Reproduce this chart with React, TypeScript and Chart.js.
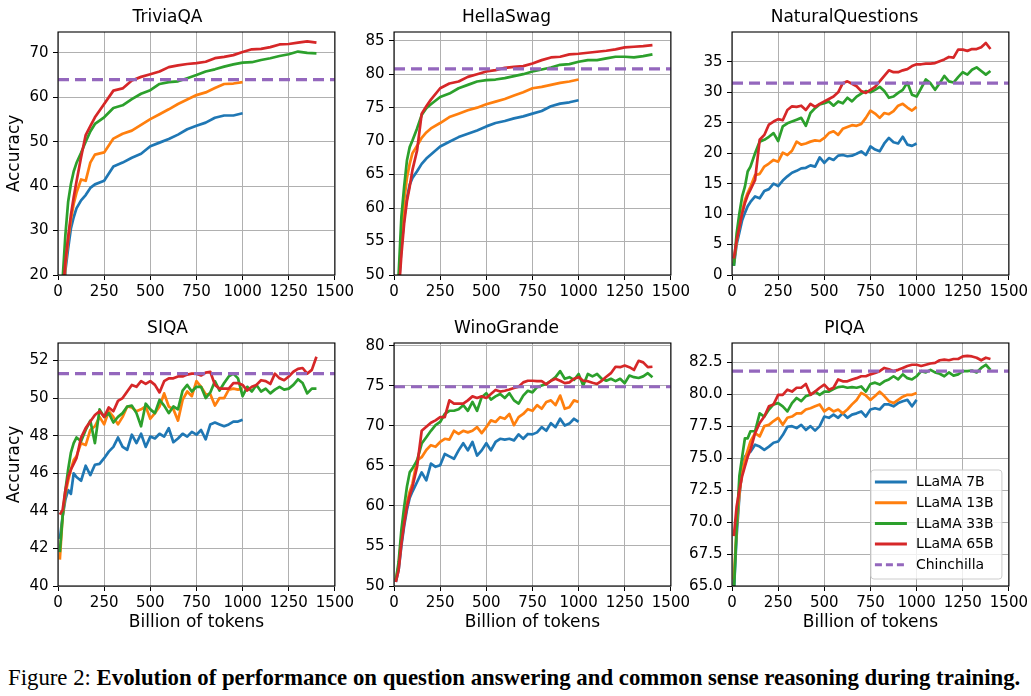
import React, { useEffect, useLayoutEffect, useRef, useState } from "react";
import { Chart, registerables } from "chart.js";

Chart.register(...registerables);

const FONT = '"DejaVu Sans", sans-serif';

// ---------- data ----------
const X_SMOOTH = [25, 40, 55, 70, 85, 100, 125, 150, 175, 200, 250, 300, 350, 400, 450, 500, 550, 600, 650, 700, 750, 800, 850, 900, 950, 1000, 1050, 1100, 1150, 1200, 1250, 1300, 1350, 1400];
const X_NOISY = [10, 25, 40, 55, 70, 85, 100, 125, 150, 175, 200, 225, 250, 275, 300, 325, 350, 375, 400, 425, 450, 475, 500, 525, 550, 575, 600, 625, 650, 675, 700, 725, 750, 775, 800, 825, 850, 875, 900, 925, 950, 975, 1000, 1025, 1050, 1075, 1100, 1125, 1150, 1175, 1200, 1225, 1250, 1275, 1300, 1325, 1350, 1375, 1400];
const X_TICKS = [0, 250, 500, 750, 1000, 1250, 1500];

const SERIES_NAMES = ["LLaMA 7B", "LLaMA 13B", "LLaMA 33B", "LLaMA 65B"];
const BASELINE_NAME = "Chinchilla";

const TRIVIA_7B = [5, 21, 26, 30.5, 33, 35, 36.8, 38, 39.6, 40.4, 41.2, 44.4, 45.3, 46.4, 47.3, 49, 49.8, 50.6, 51.6, 52.8, 53.6, 54.3, 55.4, 55.9, 55.9, 56.4];
const TRIVIA_13B = [12, 22, 28, 32.5, 36, 38.5, 41.5, 41.2, 45.3, 47.1, 47.6, 50.7, 51.8, 52.5, 53.8, 55.1, 56.2, 57.3, 58.5, 59.5, 60.5, 61.1, 62.1, 63, 63.1, 63.4];
const TRIVIA_33B = [19, 29, 36.5, 40.5, 43.3, 45.2, 47.5, 50, 52.3, 54, 55.5, 57.6, 58.2, 59.6, 60.8, 61.6, 63, 63.4, 63.6, 64.3, 65, 65.8, 66.3, 66.9, 67.4, 67.8, 67.9, 68.4, 68.8, 69.3, 69.7, 70.3, 70, 69.9];
const TRIVIA_65B = [15, 23, 28.5, 33.5, 37.5, 41, 46.5, 51.5, 53.5, 55.5, 58.5, 61.5, 62, 63.8, 64.6, 65.2, 65.8, 66.8, 67.2, 67.5, 67.7, 68, 68.8, 69.1, 69.5, 70.2, 70.8, 70.9, 71.3, 71.9, 72, 72.3, 72.6, 72.3];

const HELLA_7B = [48, 54, 58.5, 61.5, 63.5, 64.5, 65.5, 66.6, 67.4, 68, 69.2, 69.9, 70.6, 71.1, 71.6, 72.2, 72.7, 73, 73.4, 73.7, 74.1, 74.5, 75.2, 75.6, 75.8, 76.1];
const HELLA_13B = [48, 56, 61, 64.5, 66.6, 68.2, 69.3, 70.5, 71.3, 71.9, 72.7, 73.6, 74.1, 74.6, 75, 75.5, 75.9, 76.3, 76.8, 77.3, 77.9, 78.1, 78.4, 78.7, 78.9, 79.2];
const HELLA_33B = [50, 58.7, 63.2, 67.1, 69.1, 70.1, 71.9, 73.9, 74.9, 75.5, 76.6, 77.1, 77.9, 78.4, 78.9, 79.1, 79.2, 79.4, 79.7, 80, 80.4, 80.7, 81, 81.4, 81.5, 81.85, 82.1, 82.1, 82.35, 82.6, 82.6, 82.5, 82.7, 82.95];
const HELLA_65B = [47, 53, 57.7, 61, 63.2, 65.7, 68.6, 74.1, 75.2, 76.2, 77.9, 78.6, 78.9, 79.6, 80, 80.4, 80.6, 80.95, 81.1, 81.2, 81.6, 82.1, 82.5, 82.6, 82.95, 83.05, 83.2, 83.35, 83.5, 83.7, 84, 84.1, 84.2, 84.35];

const NQ_7B = [1.5, 5, 7, 9, 10.2, 11.3, 12, 12.9, 12.6, 13.8, 14.1, 15, 14.6, 15.5, 16.2, 16.8, 17.1, 17.5, 17.6, 18, 17.8, 19.3, 18.4, 19.2, 18.9, 19.6, 19.7, 19.5, 19.6, 19.9, 20.3, 19.7, 21.1, 20.6, 20.3, 21.6, 22.5, 21.8, 21.6, 22.7, 21.4, 21.2, 21.6];
const NQ_13B = [2, 5.5, 8, 10.5, 12.3, 13.5, 14.5, 16.4, 16.6, 17.8, 18.3, 18.9, 18.6, 20.1, 19.7, 20.4, 21.9, 21.4, 21.6, 21.9, 22.1, 22, 22.5, 23.3, 23.6, 23, 24, 24.3, 24.6, 24.5, 24.8, 25.8, 27, 26.5, 25.8, 26.6, 26.4, 26.9, 27.8, 28.1, 27.5, 27, 27.6];
const NQ_33B = [1.5, 6.8, 10.1, 12.9, 14.5, 17, 17.8, 20, 21.9, 22.2, 22.7, 23.3, 22, 24.4, 24.9, 25.2, 25.5, 25.8, 24.5, 26.6, 27.4, 28, 28.2, 28.5, 27.8, 28.5, 28.2, 29.1, 28.5, 29.3, 29.8, 30.2, 30, 30.4, 30.9, 30.2, 29.1, 29.3, 29.9, 30.4, 31.6, 29.6, 29.3, 30.7, 32.1, 31.5, 30.4, 31.5, 32.7, 31.8, 31.6, 32.5, 33.3, 32.9, 33.7, 34.1, 33.5, 32.9, 33.5];
const NQ_65B = [2.7, 5.7, 7.9, 10.1, 11.8, 13.1, 14, 15.6, 22.2, 23, 24.7, 25.2, 25.6, 25.4, 27.1, 27.7, 27.6, 27.8, 27.1, 28.1, 27.6, 28.1, 28.5, 28.9, 29.3, 30, 31.5, 31.8, 31.4, 31, 30.2, 29.9, 30.4, 30.9, 31.8, 32.7, 33.6, 33.3, 33.3, 33.6, 33.8, 34.3, 34.6, 34.6, 34.7, 34.7, 34.8, 35.1, 35.4, 35.8, 35.7, 37, 37, 36.8, 37.1, 37.1, 37.4, 38.1, 37.1];

const SIQA_7B = [42.5, 43.7, 44.6, 45.1, 44.9, 46, 45.8, 45.6, 46.4, 45.9, 46.45, 46.5, 46.8, 47.15, 47.4, 47.9, 47.4, 47.25, 48.05, 47.6, 48.1, 47.4, 47.95, 47.85, 48.1, 47.95, 48.4, 47.65, 47.85, 48.1, 47.95, 48.2, 48.05, 48.3, 47.8, 48.6, 48.7, 48.6, 48.5, 48.6, 48.75, 48.75, 48.85];
const SIQA_13B = [41.4, 43.7, 44.9, 45.6, 46.2, 46.7, 46.9, 47.6, 47.5, 48.3, 48.5, 49, 48.6, 49.3, 49, 48.6, 49, 49.55, 49.5, 49.3, 49.4, 49.55, 48.9, 49.2, 49.55, 50.25, 49.55, 49.4, 48.8, 49.9, 50.35, 50.1, 50.9, 50.6, 50.2, 50.2, 49.6, 50, 50, 50.45, 50.5, 50.45, 50.5];
const SIQA_33B = [41.8, 43.7, 45.1, 46.2, 47.1, 47.6, 47.9, 47.7, 48.3, 48.8, 47.6, 49.4, 49, 49.2, 48.7, 49, 49.2, 49.55, 49.6, 49.2, 48.5, 49.7, 49.4, 49.2, 49.9, 49.6, 49.2, 49.55, 49.4, 50.4, 50.7, 50.35, 50.6, 50.6, 50, 50.3, 50.9, 50.4, 50.8, 51.15, 51.3, 51.05, 50.1, 50.6, 50.35, 50.7, 50.35, 50.5, 50.25, 50.45, 50.6, 50.45, 50.5, 50.7, 51, 50.8, 50.25, 50.5, 50.5];
const SIQA_65B = [43.8, 44.05, 45.1, 45.8, 46.2, 46.5, 46.8, 47.9, 48.4, 48.75, 49.1, 49.3, 49, 49.5, 49.3, 49.85, 50, 50.35, 50.7, 50.6, 50.9, 50.75, 50.9, 50.7, 50.3, 50.9, 51.05, 51.05, 51.15, 51.15, 51.25, 51.3, 51.3, 51.2, 51.35, 51.4, 50.7, 50.5, 50.5, 50.5, 50.8, 50.8, 50.7, 50.4, 50.6, 50.7, 50.95, 50.9, 50.75, 51.3, 51.05, 50.95, 51.15, 51.4, 51.55, 51.6, 51.3, 51.5, 52.2];

const WINO_7B = [50.5, 52, 55, 57.5, 59.5, 61, 61.8, 63, 64.2, 63.2, 65.3, 64.9, 65.1, 66.5, 66.2, 65.9, 66.95, 67.85, 66.95, 68, 66.3, 66.95, 67.85, 66.95, 68, 68.4, 68.3, 68.4, 68.2, 68.95, 68.4, 69, 68.95, 69.2, 69.85, 69.4, 70.35, 69.85, 70.9, 70.05, 70.3, 70.9, 70.5];
const WINO_13B = [50.8, 52.5, 56, 58.3, 60.3, 61.8, 62.8, 65.7, 66.1, 67, 67.6, 67.4, 68, 68.4, 68.3, 69.4, 69, 69.4, 69.2, 69.4, 69.85, 69.1, 69.85, 70.7, 70.5, 71.1, 70.9, 71.5, 70.1, 71.1, 71.5, 72.1, 71.9, 72.6, 72.15, 73, 73.2, 72.6, 73.8, 72.15, 72.35, 73.2, 73];
const WINO_33B = [50.7, 53, 57, 59.9, 62.4, 64.2, 64.7, 65.7, 67.8, 68.6, 69.4, 70.1, 70.5, 71.5, 71.9, 71.9, 72.1, 72.6, 71.9, 73, 71.9, 73.6, 74.1, 73.3, 73.7, 74, 73.5, 74.1, 73.2, 72.8, 73.8, 74.4, 74.2, 74.85, 75.05, 75.25, 75.65, 76.1, 76.85, 75.9, 76.1, 75.75, 76.5, 75.05, 76.5, 76.2, 76.5, 75.9, 75.65, 75.9, 75.6, 75.9, 75.35, 76.3, 76.1, 76, 76.2, 76.6, 76.1];
const WINO_65B = [50.5, 52, 55.3, 57.8, 59.9, 61.3, 62.4, 64.9, 69.4, 69.9, 70.4, 70.7, 71.1, 71.1, 73.2, 72.8, 72.8, 72.8, 73.2, 73.7, 73.5, 73.7, 73.5, 74, 74.5, 74.3, 74.4, 74.55, 74.75, 74.9, 75.45, 75.65, 75.65, 75.6, 75.6, 75.2, 75.65, 75.9, 75.65, 75.35, 75.45, 75.9, 76.1, 75.65, 75.6, 75.4, 75.25, 75.65, 76.15, 76.6, 77.4, 77.35, 77.55, 77.35, 77, 78.15, 77.95, 77.35, 77.4];

const PIQA_7B = [64.5, 68.9, 72, 74.1, 75.1, 75.4, 75.5, 76.05, 75.9, 75.65, 75.9, 76.2, 76.3, 76.8, 77.45, 77.5, 77.35, 77.6, 77.2, 77.5, 77.15, 77.5, 78.25, 78.15, 78.4, 78.15, 78.5, 78.15, 78.4, 78.5, 78.65, 78.25, 78.8, 78.9, 78.8, 79.2, 79.2, 79.05, 79.3, 79.45, 79.55, 79.05, 79.55];
const PIQA_13B = [65.5, 69.5, 72.2, 73.9, 74.9, 75.6, 76.3, 76.95, 76.7, 77.5, 77.6, 77.9, 78.15, 77.6, 78.15, 78.25, 78.5, 78.5, 78.8, 78.9, 79.05, 79.2, 78.65, 78.9, 78.65, 78.8, 78.5, 78.8, 79.2, 79.55, 80.1, 79.9, 79.55, 79.85, 80.2, 79.85, 79.45, 79.3, 79.55, 79.8, 79.95, 79.95, 80.1];
const PIQA_33B = [64.5, 69.6, 73.6, 75.1, 76.55, 76.55, 77.1, 77.1, 78.5, 78.25, 78.8, 79.2, 79.3, 79.05, 78.65, 79.3, 79.7, 79.45, 79.85, 79.95, 80.2, 79.95, 80.2, 80.2, 80.4, 80.55, 80.6, 80.5, 80.55, 80.5, 80.6, 80.2, 80.8, 80.9, 80.75, 81, 81.15, 81.4, 81.15, 81.55, 81.25, 81.15, 81.4, 81.8, 81.7, 81.9, 81.7, 81.6, 81.4, 81.7, 81.45, 81.55, 81.8, 81.8, 81.85, 81.7, 82.05, 82.3, 81.9];
const PIQA_65B = [68.9, 71.2, 72.5, 73.6, 74.35, 75.1, 75.65, 76.95, 77.75, 78.25, 79.05, 79.2, 79.95, 79.95, 80.35, 80.2, 80.5, 80.5, 80.8, 79.95, 80.2, 80.5, 80.75, 80.35, 80.5, 81.15, 81, 81, 81.15, 81.25, 81.4, 81.4, 81.55, 81.65, 81.8, 82.05, 81.95, 81.8, 81.9, 82.05, 82.2, 82.3, 82.3, 82.2, 82.3, 82.4, 82.45, 82.65, 82.7, 82.65, 82.75, 82.75, 82.95, 83, 82.95, 82.85, 82.65, 82.85, 82.75];

const PANEL_TITLES = ["TriviaQA", "HellaSwag", "NaturalQuestions", "SIQA", "WinoGrande", "PIQA"];
const CHINCHILLA_SCORES = [64.0, 80.8, 31.5, 51.3, 74.9, 81.8];
const Y_MIN = [20, 50, 0, 40, 50, 65];
const Y_MAX = [74.7, 86.3, 39.9, 52.93, 80.37, 84.0];
const Y_TICKS_TRIVIA = [20, 30, 40, 50, 60, 70];
const Y_TICKS_HELLA = [50, 55, 60, 65, 70, 75, 80, 85];
const Y_TICKS_NQ = [0, 5, 10, 15, 20, 25, 30, 35];
const Y_TICKS_SIQA = [40, 42, 44, 46, 48, 50, 52];
const Y_TICKS_WINO = [50, 55, 60, 65, 70, 75, 80];
const Y_TICKS_PIQA = [65, 67.5, 70, 72.5, 75, 77.5, 80, 82.5];
const Y_DECIMALS = [0, 0, 0, 0, 0, 1];

// ---------- styles / layout ----------
const SERIES_COLORS = ["#1f77b4", "#ff7f0e", "#2ca02c", "#d62728"];
const BASELINE_COLOR = "#9467bd";
const COL_PLOT_LEFT = [58, 394, 732];
const ROW_PLOT_TOP = [32, 343];
const PLOT_W = 277;
const PLOT_H = 243;

type Panel = {
  title: string;
  xs: number[];
  series: number[][];
  chin: number;
  yMin: number;
  yMax: number;
  yTicks: number[];
  decimals: number;
  col: number;
  row: number;
  yLabel: boolean;
  xLabel: boolean;
  legend: boolean;
};

const PANELS: Panel[] = [
  { series: [TRIVIA_7B, TRIVIA_13B, TRIVIA_33B, TRIVIA_65B], xs: X_SMOOTH, yTicks: Y_TICKS_TRIVIA },
  { series: [HELLA_7B, HELLA_13B, HELLA_33B, HELLA_65B], xs: X_SMOOTH, yTicks: Y_TICKS_HELLA },
  { series: [NQ_7B, NQ_13B, NQ_33B, NQ_65B], xs: X_NOISY, yTicks: Y_TICKS_NQ },
  { series: [SIQA_7B, SIQA_13B, SIQA_33B, SIQA_65B], xs: X_NOISY, yTicks: Y_TICKS_SIQA },
  { series: [WINO_7B, WINO_13B, WINO_33B, WINO_65B], xs: X_NOISY, yTicks: Y_TICKS_WINO },
  { series: [PIQA_7B, PIQA_13B, PIQA_33B, PIQA_65B], xs: X_NOISY, yTicks: Y_TICKS_PIQA },
].map((p, i) => ({
  ...p,
  title: PANEL_TITLES[i],
  chin: CHINCHILLA_SCORES[i],
  yMin: Y_MIN[i],
  yMax: Y_MAX[i],
  decimals: Y_DECIMALS[i],
  col: i % 3,
  row: Math.floor(i / 3),
  yLabel: i % 3 === 0,
  xLabel: i >= 3,
  legend: i === 5,
}));

function makeFramePlugin() {
  return {
    id: "frame",
    afterDatasetsDraw(chart: any) {
      const { ctx, chartArea } = chart;
      ctx.save();
      ctx.strokeStyle = "#000";
      ctx.lineWidth = 1.1;
      ctx.strokeRect(chartArea.left, chartArea.top, chartArea.right - chartArea.left, chartArea.bottom - chartArea.top);
      ctx.restore();
    },
  };
}

function makeLegendPlugin(show: boolean) {
  return {
    id: "insetLegend",
    afterDraw(chart: any) {
      if (!show) return;
      const { ctx, chartArea } = chart;
      const w = 131;
      const h = 109;
      const x0 = chartArea.right - 7 - w;
      const y0 = chartArea.bottom - 7 - h;
      ctx.save();
      const r = 3;
      ctx.beginPath();
      ctx.moveTo(x0 + r, y0);
      ctx.lineTo(x0 + w - r, y0);
      ctx.quadraticCurveTo(x0 + w, y0, x0 + w, y0 + r);
      ctx.lineTo(x0 + w, y0 + h - r);
      ctx.quadraticCurveTo(x0 + w, y0 + h, x0 + w - r, y0 + h);
      ctx.lineTo(x0 + r, y0 + h);
      ctx.quadraticCurveTo(x0, y0 + h, x0, y0 + h - r);
      ctx.lineTo(x0, y0 + r);
      ctx.quadraticCurveTo(x0, y0, x0 + r, y0);
      ctx.closePath();
      ctx.fillStyle = "rgba(255,255,255,0.8)";
      ctx.fill();
      ctx.strokeStyle = "#cccccc";
      ctx.lineWidth = 1;
      ctx.stroke();
      chart.data.datasets.forEach((ds: any, i: number) => {
        const y = y0 + 12 + i * 20.7;
        ctx.beginPath();
        ctx.setLineDash(ds.borderDash ? [7, 4] : []);
        ctx.strokeStyle = ds.borderColor;
        ctx.lineWidth = 3;
        ctx.moveTo(x0 + 4, y);
        ctx.lineTo(x0 + 36, y);
        ctx.stroke();
        ctx.setLineDash([]);
        ctx.fillStyle = "#000";
        ctx.font = `14px ${FONT}`;
        ctx.textBaseline = "middle";
        ctx.textAlign = "left";
        ctx.fillText(ds.label, x0 + 45, y + 0.5);
      });
      ctx.restore();
    },
  };
}

function ChartPanel({ p }: { p: Panel }) {
  const ref = useRef<HTMLCanvasElement>(null);
  const L = p.col === 0 ? 58 : 52;
  const R = 22;
  const T = 32;
  const B = p.xLabel ? 56 : 30;
  const width = L + PLOT_W + R;
  const height = T + PLOT_H + B;
  const left = COL_PLOT_LEFT[p.col] - L;
  const top = ROW_PLOT_TOP[p.row] - T;

  useEffect(() => {
    const datasets: any[] = p.series.map((ys, i) => ({
      label: SERIES_NAMES[i],
      data: ys.map((y, j) => ({ x: p.xs[j], y })),
      borderColor: SERIES_COLORS[i],
      backgroundColor: SERIES_COLORS[i],
      borderWidth: 2.7,
      pointRadius: 0,
      tension: 0,
      fill: false,
      order: 4 - i,
      clip: 0,
      borderJoinStyle: "round",
    }));
    datasets.push({
      label: BASELINE_NAME,
      data: [
        { x: 0, y: p.chin },
        { x: 1500, y: p.chin },
      ],
      borderColor: BASELINE_COLOR,
      backgroundColor: BASELINE_COLOR,
      borderWidth: 3.2,
      borderDash: [11, 6],
      pointRadius: 0,
      fill: false,
      order: 0,
      clip: 0,
    });

    const gridOpts = { color: "#b0b0b0", lineWidth: 1, tickColor: "#000", tickLength: 5, drawTicks: true };
    const tickFont = { family: FONT, size: 15 };
    const labelFont = { family: FONT, size: 17, lineHeight: 1.2 };

    const chart = new Chart(ref.current as HTMLCanvasElement, {
      type: "line",
      data: { datasets },
      options: {
        animation: false,
        responsive: false,
        devicePixelRatio: 1,
        events: [],
        layout: { padding: { left: 0, right: R, top: 0, bottom: 0 } },
        plugins: {
          legend: { display: false },
          tooltip: { enabled: false },
          title: {
            display: true,
            text: p.title,
            color: "#000",
            font: { family: FONT, size: 17, weight: "normal", lineHeight: 1.2 },
            padding: { top: 7, bottom: 4.6 },
          },
        },
        scales: {
          x: {
            type: "linear",
            min: 0,
            max: 1500,
            afterBuildTicks: (s: any) => {
              s.ticks = X_TICKS.map((v) => ({ value: v }));
            },
            afterFit: (s: any) => {
              s.height = B;
            },
            ticks: {
              color: "#000",
              font: tickFont,
              padding: 3,
              maxRotation: 0,
              autoSkip: false,
              callback: (v: any) => String(v),
            },
            grid: gridOpts,
            border: { display: false },
            title: {
              display: p.xLabel,
              text: "Billion of tokens",
              color: "#000",
              font: labelFont,
              padding: { top: 0, bottom: 8.8 },
            },
          },
          y: {
            type: "linear",
            min: p.yMin,
            max: p.yMax,
            afterBuildTicks: (s: any) => {
              s.ticks = p.yTicks.map((v) => ({ value: v }));
            },
            afterFit: (s: any) => {
              s.width = L;
            },
            ticks: {
              color: "#000",
              font: tickFont,
              padding: 4.5,
              autoSkip: false,
              callback: (v: any) => Number(v).toFixed(p.decimals),
            },
            grid: gridOpts,
            border: { display: false },
            title: {
              display: p.yLabel,
              text: "Accuracy",
              color: "#000",
              font: labelFont,
              padding: { top: 4.8, bottom: 0 },
            },
          },
        },
      } as any,
      plugins: [makeFramePlugin(), makeLegendPlugin(p.legend)],
    });
    return () => chart.destroy();
  }, [p]);

  return (
    <canvas
      ref={ref}
      width={width}
      height={height}
      style={{ position: "absolute", left, top, width, height }}
    />
  );
}

function Caption() {
  const ref = useRef<HTMLDivElement>(null);
  const [sx, setSx] = useState(1);
  useLayoutEffect(() => {
    const el = ref.current;
    if (el) {
      const w = el.offsetWidth;
      if (w > 0) setSx(1012 / w);
    }
  }, []);
  return (
    <div
      ref={ref}
      style={{
        position: "absolute",
        left: 8,
        top: 665,
        whiteSpace: "nowrap",
        fontFamily: '"Liberation Serif", "Times New Roman", serif',
        fontSize: 24,
        lineHeight: "24px",
        color: "#000",
        transform: `scaleX(${sx})`,
        transformOrigin: "0 0",
      }}
    >
      Figure 2: <b>Evolution of performance on question answering and common sense reasoning during training.</b>
    </div>
  );
}

export default function App() {
  return (
    <div
      style={{
        position: "absolute",
        left: 0,
        top: 0,
        width: 1031,
        height: 696,
        background: "#fff",
        overflow: "hidden",
      }}
    >
      {PANELS.map((p) => (
        <ChartPanel key={p.title} p={p} />
      ))}
      <Caption />
    </div>
  );
}
